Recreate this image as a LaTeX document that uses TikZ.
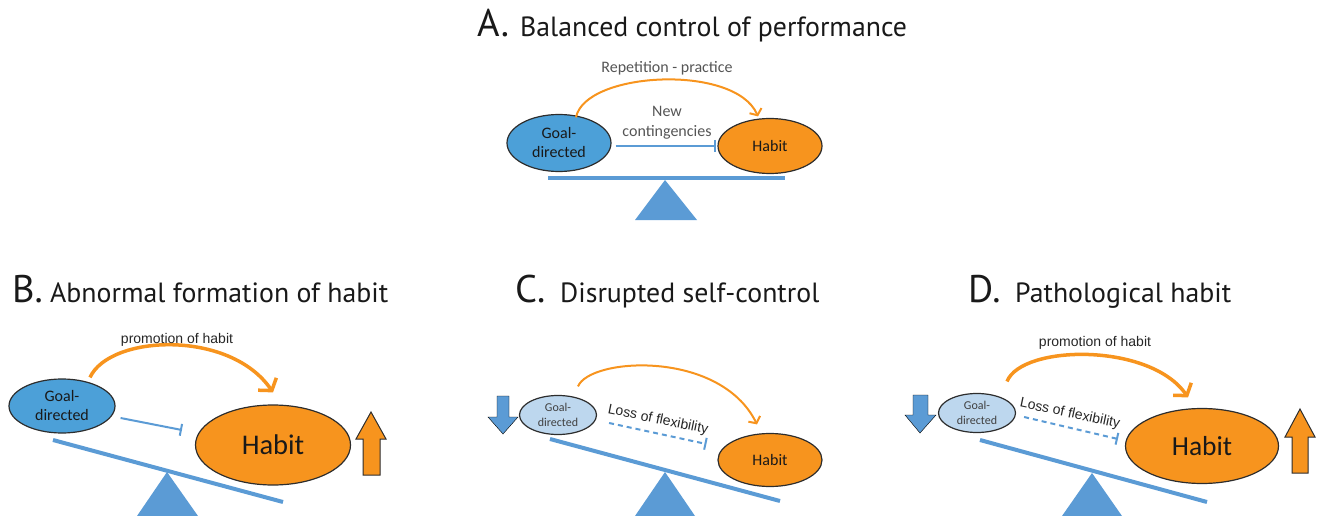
\documentclass[tikz,border=0pt]{standalone}
\usepackage{fontspec}
\setmainfont{Carlito}
\newfontfamily\titlefont{PT Sans}
\newfontfamily\arialfont{Liberation Sans}
\usepackage{tikz}
\usetikzlibrary{arrows.meta,shapes.geometric,calc}

\definecolor{goalblue}{RGB}{76,160,216}
\definecolor{lightgoal}{RGB}{189,215,238}
\definecolor{habitorange}{RGB}{247,148,30}
\definecolor{beamblue}{RGB}{91,155,213}
\definecolor{edgegray}{RGB}{45,45,45}
\definecolor{labelgray}{RGB}{85,85,85}

\begin{document}
\begin{tikzpicture}[x=1pt, y=-1pt,
    oval/.style={ellipse, draw=edgegray, line width=1.2pt, inner sep=0pt, align=center, text=black!90},
    goal/.style={oval, fill=goalblue, font=\fontsize{16}{19}\selectfont},
    weakgoal/.style={oval, fill=lightgoal, font=\fontsize{12}{14.5}\selectfont, text=black!75},
    habit/.style={oval, fill=habitorange},
    beam/.style={beamblue, line width=4pt},
    pivot/.style={fill=beamblue},
    practice/.style={habitorange, line width=2pt, -{Straight Barb[length=5pt,width=13pt]}},
    promote/.style={habitorange, line width=3.5pt, -{Straight Barb[length=8pt,width=22pt]}},
    inhibit/.style={beamblue, line width=2pt, -{Bar[width=12pt]}},
    arial/.style={font=\arialfont\fontsize{14}{16}\selectfont, text=black!85},
    riseup/.style={fill=habitorange, draw=edgegray, line width=1pt},
    falldown/.style={fill=beamblue},
    letter/.style={anchor=base west, inner sep=0pt, font=\titlefont\fontsize{38.5}{40}\selectfont, text=black!90},
    ptitle/.style={anchor=base west, inner sep=0pt, font=\titlefont\fontsize{27.8}{30}\selectfont, text=black!90},
]
    \useasboundingbox (0,0) rectangle (1323,516);

    % 标题
    \node[letter] (letA) at (477,37) {A.};
    \node[ptitle] (titA) at (520,37) {Balanced control of performance};
    \node[letter] (letB) at (12,302) {B.};
    \node[ptitle] (titB) at (50,302) {Abnormal formation of habit};
    \node[letter] (letC) at (515,302) {C.};
    \node[ptitle] (titC) at (560,302) {Disrupted self-control};
    \node[letter] (letD) at (968,302) {D.};
    \node[ptitle] (titD) at (1015,302) {Pathological habit};

    % A: 平衡
    \draw[beam] (548,178) -- (785,178);
    \fill[pivot] (665,180) -- (697,220) -- (635,220) -- cycle;
    \node[goal, minimum width=104pt, minimum height=57pt] (goalA) at (559,143) {Goal-\\directed};
    \node[habit, minimum width=104pt, minimum height=55pt, font=\fontsize{16}{19}\selectfont] (habitA) at (770,146) {Habit};
    \draw[practice] ($(goalA.north)+(17,3.5)$) .. controls +(9,-46) and +(-23,-53) .. ($(habitA.north)+(-12,-1.5)$);
    \draw[inhibit] ($(goalA.east)+(4,3)$) -- ($(habitA.west)+(-1,0)$);
    \node[text=labelgray, font=\fontsize{16}{19}\selectfont] (repA) at (667,68) {Repetition - practice};
    \node[text=labelgray, align=center, font=\fontsize{16}{20}\selectfont] (newA) at (667,123) {New\\contingencies};

    % B: 习惯形成异常
    \draw[beam] (53,440) -- (283,502);
    \fill[pivot] (167,472) -- (198,516) -- (137,516) -- cycle;
    \node[goal, minimum width=106pt, minimum height=54pt] (goalB) at (62,406) {Goal-\\directed};
    \node[habit, minimum width=155pt, minimum height=80pt, font=\fontsize{28.5}{30}\selectfont] (habitB) at (273,445) {Habit};
    \draw[promote] ($(goalB.north)+(28,-1)$) .. controls +(20,-43) and +(-43,-63) .. ($(habitB.north)+(0,-12)$);
    \draw[inhibit] ($(goalB.east)+(5,12)$) -- ($(habitB.west)+(-13,-15)$);
    \node[arial] (proB) at (177,340) {promotion of habit};
    \draw[riseup] (363,475) -- (363,439) -- (356,439) -- (371,412) -- (386,439) -- (380,439) -- (380,475) -- cycle;

    % C: 自我控制受损
    \draw[beam] (550,439) -- (780,501);
    \fill[pivot] (665,472) -- (695,516) -- (635,516) -- cycle;
    \node[weakgoal, minimum width=77pt, minimum height=39pt] (goalC) at (558,415) {Goal-\\directed};
    \node[habit, minimum width=104pt, minimum height=53pt, font=\fontsize{16}{19}\selectfont] (habitC) at (770,460) {Habit};
    \draw[practice] ($(goalC.north)+(20,-8.5)$) .. controls +(12,-29) and +(-37,-75) .. ($(habitC.north)+(-13,-8.5)$);
    \draw[inhibit, dashed, dash pattern=on 5pt off 4pt] ($(goalC.east)+(12,8)$) -- ($(habitC.west)+(-11,-16)$);
    \node[arial, rotate=-11.5] (lossC) at (658,420) {Loss of flexibility};
    \draw[falldown] (497,396) -- (509,396) -- (509,417) -- (518,417) -- (503,434) -- (488,417) -- (497,417) -- cycle;

    % D: 病理性习惯
    \draw[beam] (980,440) -- (1207,502);
    \fill[pivot] (1092,473) -- (1122,516) -- (1062,516) -- cycle;
    \node[weakgoal, minimum width=77pt, minimum height=39pt] (goalD) at (977,413) {Goal-\\directed};
    \node[habit, minimum width=153pt, minimum height=75pt, font=\fontsize{27.5}{30}\selectfont] (habitD) at (1202,446) {Habit};
    \draw[promote] ($(goalD.north)+(30,-11.5)$) .. controls +(15,-37) and +(-38,-55) .. ($(habitD.north)+(-14,-10.5)$);
    \draw[inhibit, dashed, dash pattern=on 5pt off 4pt] ($(goalD.east)+(8,4)$) -- ($(habitD.west)+(-7,-7)$);
    \node[arial] (proD) at (1095,343) {promotion of habit};
    \node[arial, rotate=-12] (lossD) at (1070,414) {Loss of flexibility};
    \draw[falldown] (913,395) -- (928,395) -- (928,415) -- (936,415) -- (920,433) -- (905,415) -- (913,415) -- cycle;
    \draw[riseup] (1292,473) -- (1292,437) -- (1285,437) -- (1300,409) -- (1315,437) -- (1308,437) -- (1308,473) -- cycle;
\end{tikzpicture}
\end{document}
